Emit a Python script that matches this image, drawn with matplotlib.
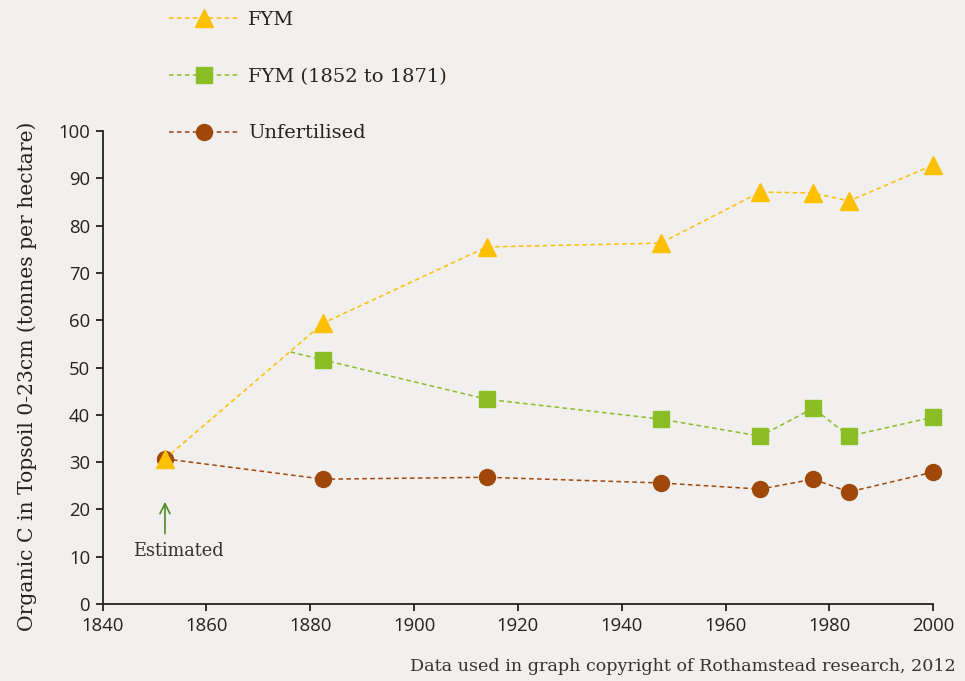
import matplotlib
matplotlib.use("Agg")
import matplotlib.pyplot as plt

# Data
fym_years = [1852, 1882.5, 1914, 1947.5, 1966.7, 1976.9, 1983.8, 2000]
fym_vals = [30.7, 59.4, 75.5, 76.3, 87.1, 86.9, 85.2, 92.8]

fym52_years = [1876.2, 1882.5, 1914, 1947.5, 1966.7, 1976.9, 1983.8, 2000]
fym52_vals = [53.3, 51.6, 43.3, 39.1, 35.5, 41.4, 35.5, 39.5]

unf_years = [1852, 1882.5, 1914, 1947.5, 1966.7, 1976.9, 1983.8, 2000]
unf_vals = [30.7, 26.4, 26.8, 25.6, 24.3, 26.4, 23.7, 27.9]

x_ticks = [1840, 1860, 1880, 1900, 1920, 1940, 1960, 1980, 2000]
y_ticks = [0, 10, 20, 30, 40, 50, 60, 70, 80, 90, 100]

BG = "#f1f0ee"
C_FYM = "#FFC000"
C_GRN = "#8BBD24"
C_UNF = "#A0480A"
TXT = "#222222"
SERIF = "DejaVu Serif"
SANS = "Open Sans"

fig = plt.figure(figsize=(9.65, 6.81), dpi=100, facecolor=BG)
ax = fig.add_axes([0.1064, 0.113, 0.8606, 0.6946])
ax.set_facecolor(BG)

dash = (3, 2.2)
l1, = ax.plot(fym_years, fym_vals, color=C_FYM, lw=1.1, dashes=dash, marker="^",
              ms=13.5, mec=C_FYM, mfc=C_FYM, clip_on=False, zorder=5, label="FYM")
l2, = ax.plot(fym52_years, fym52_vals, color=C_GRN, lw=1.1, dashes=dash, marker="s",
              ms=11.5, mec=C_GRN, mfc=C_GRN, markevery=list(range(1, len(fym52_years))),
              clip_on=False, zorder=4, label="FYM (1852 to 1871)")
l3, = ax.plot(unf_years, unf_vals, color=C_UNF, lw=1.1, dashes=dash, marker="o",
              ms=11.5, mec=C_UNF, mfc=C_UNF, clip_on=False, zorder=3, label="Unfertilised")

ax.set_xlim(1840, 2000)
ax.set_ylim(0, 100)
ax.set_xticks(x_ticks)
ax.set_yticks(y_ticks)
for s in ["top", "right"]:
    ax.spines[s].set_visible(False)
for s in ["left", "bottom"]:
    ax.spines[s].set_color(TXT)
    ax.spines[s].set_linewidth(1.3)
ax.tick_params(direction="out", length=5, width=1.3, color=TXT, labelcolor=TXT,
               labelsize=13.3, pad=4)
for lab in ax.get_xticklabels() + ax.get_yticklabels():
    lab.set_fontfamily(SANS)

ax.set_ylabel("Organic C in Topsoil 0-23cm (tonnes per hectare)", fontfamily=SERIF,
              fontsize=14.6, color=TXT)
ax.yaxis.set_label_coords(-0.079, 0.481)

# Estimated annotation
ax.annotate("", xy=(1852, 22.2), xytext=(1852, 14.3),
            arrowprops=dict(arrowstyle="->", color="#4f8a2a", lw=1.2,
                            mutation_scale=18), annotation_clip=False)
ax.text(1854.6, 11.3, "Estimated", fontfamily=SERIF, fontsize=12.8, color="#333333",
        ha="center", va="center")

leg = fig.legend(handles=[l1, l2, l3], loc="upper left", bbox_to_anchor=(0.157, 1.01),
                 frameon=False, prop={"family": SERIF, "size": 14}, labelspacing=2.0,
                 handlelength=3.6, handletextpad=0.45, labelcolor=TXT)

fig.text(0.99, 0.021, "Data used in graph copyright of Rothamstead research, 2012",
         fontfamily=SERIF, fontsize=12.6, color="#333333", ha="right", va="center")

fig.savefig("out.png", dpi=100, facecolor=BG)
